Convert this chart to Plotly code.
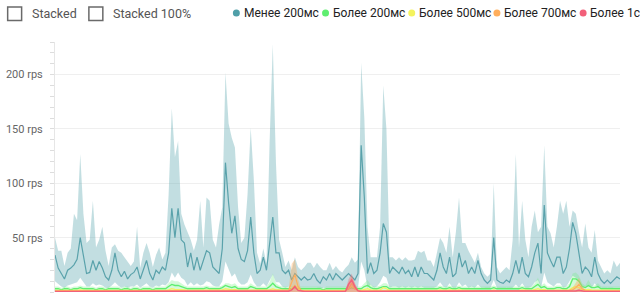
import plotly.graph_objects as go

# ---------------- data ----------------
t = list(range(180))

# "Менее 200мс" : median line, band upper, band lower
M = [34,22,17,12,20,22,25,30,50,33,
     17,18,29,20,28,22,14,11,20,36,
     20,14,19,12,16,18,23,12,20,29,
     17,11,20,17,23,20,36,77,50,77,
     48,45,23,36,20,32,20,30,38,36,
     23,20,17,40,119,82,54,70,40,30,
     28,38,69,36,17,20,32,20,45,69,
     36,36,20,17,20,11,17,14,11,14,
     11,12,17,11,8,14,11,17,11,17,
     14,11,14,17,14,11,17,135,87,17,
     27,17,20,36,63,55,17,23,20,17,
     23,17,20,14,23,14,23,17,17,14,
     11,20,36,23,17,32,14,17,36,23,
     29,17,23,17,29,17,11,8,11,50,
     11,9,8,11,9,17,29,17,32,17,
     14,23,36,45,17,80,36,29,23,32,
     32,17,23,40,64,54,36,17,23,20,
     14,32,17,11,8,11,8,11,14,12]
U = [50,38,38,24,36,40,72,66,127,72,
     45,48,84,41,48,60,38,24,41,44,
     38,36,32,28,24,28,60,22,36,45,
     36,23,34,41,30,36,90,169,124,139,
     72,62,54,48,38,48,84,41,87,84,
     48,41,62,78,202,155,142,133,78,45,
     50,90,151,103,36,26,40,26,139,228,
     119,48,36,23,29,20,32,23,20,23,
     27,27,22,27,23,20,20,27,20,24,
     20,18,22,25,32,27,30,211,160,60,
     32,32,32,60,190,150,32,32,29,32,
     29,32,29,29,30,38,36,38,29,29,
     23,36,50,45,36,60,32,55,87,45,
     45,38,32,27,36,23,17,14,17,100,
     23,17,20,23,20,48,127,41,84,48,
     32,60,75,55,60,135,60,54,41,60,
     84,72,84,60,75,72,55,41,63,41,
     36,57,29,23,17,20,17,29,23,27]
L = [10,7,5,4,6,7,8,9,13,9,
     5,5,8,6,7,6,4,4,6,9,
     6,4,5,4,5,5,7,4,6,8,
     5,4,6,5,7,6,9,18,13,18,
     13,11,6,9,6,8,6,7,10,9,
     6,5,5,10,28,20,14,17,10,7,
     7,9,16,9,5,5,8,5,11,16,
     9,9,5,4,5,4,4,4,4,4,
     4,4,4,4,3,4,4,4,4,4,
     4,4,4,4,4,4,4,28,20,4,
     7,4,5,9,15,13,4,5,5,4,
     5,4,5,4,5,4,5,4,4,4,
     4,5,9,5,4,8,4,4,9,5,
     7,4,5,4,7,4,4,3,4,11,
     4,3,3,4,3,4,7,4,8,4,
     4,5,9,11,4,18,9,7,5,8,
     8,4,5,10,15,13,9,4,5,5,
     4,8,4,4,3,4,3,4,4,4]

# "Более 200мс"
G = [3,3,2,3,3,2,3,3,4,3,
     3,3,3,2,3,3,2,3,3,3,
     3,2,3,3,2,3,3,2,3,3,
     3,2,3,3,3,3,5,7,6,6,
     5,4,3,3,3,3,3,3,4,3,
     3,3,3,4,6,5,4,5,3,3,
     3,3,5,4,3,3,3,3,5,8,
     5,4,3,3,3,3,4,3,3,3,
     3,3,3,3,3,2,3,3,3,3,
     3,3,3,3,4,3,3,3,5,6,
     4,3,3,4,5,5,3,3,3,3,
     3,3,3,3,3,3,3,3,3,3,
     3,3,4,3,3,4,3,3,4,3,
     3,3,3,3,3,3,3,3,3,4,
     3,3,3,3,3,3,3,3,4,3,
     3,3,5,7,4,5,3,3,3,4,
     4,3,3,5,12,12,10,5,4,6,
     4,4,5,3,3,3,3,3,3,3]
GU = [5,5,4,5,5,4,5,5,6,5,
      5,5,5,4,5,5,4,5,5,5,
      5,4,5,5,4,5,5,4,5,5,
      5,4,5,5,5,5,8,11,10,10,
      8,6,5,5,5,5,5,5,6,5,
      5,5,5,6,8,8,7,8,5,5,
      5,5,8,6,5,5,5,5,9,17,
      8,6,5,5,5,5,6,5,5,5,
      5,5,5,5,5,4,5,5,5,5,
      5,5,5,5,6,5,5,5,8,11,
      7,5,5,6,8,8,5,5,5,5,
      5,5,5,5,5,5,5,5,5,5,
      5,5,6,5,5,6,5,5,6,5,
      5,5,5,5,5,5,5,5,5,6,
      5,5,5,5,5,5,5,5,6,5,
      5,5,8,13,6,8,5,5,5,6,
      6,5,5,8,17,18,15,8,6,11,
      6,6,8,5,5,5,5,5,5,5]

# "Более 500мс"
Y = [1.5,1.5,1,1.5,1.5,1,1.5,1.5,2,1.5,
     1.5,1.5,1.5,1,1.5,1.5,1,1.5,1.5,1.5,
     1.5,1,1.5,1.5,1,1.5,1.5,1,1.5,1.5,
     1.5,1,1.5,1.5,1.5,1.5,2,3,2.5,2.5,
     2,2,1.5,1.5,1.5,1.5,1.5,1.5,2,1.5,
     1.5,1.5,1.5,2,3,2.5,2,2.5,1.5,1.5,
     1.5,1.5,2,2,1.5,1.5,1.5,1.5,2,3,
     2,2,1.5,1.5,1.5,3,6,3,1.5,1.5,
     1.5,1.5,1.5,1.5,1.5,1,1.5,1.5,1.5,1.5,
     1.5,1.5,1.5,3,5,3,1.5,1.5,2,3,
     2,1.5,1.5,2,4,3,1.5,1.5,1.5,1.5,
     1.5,1.5,1,1.5,1.5,1.5,1,1.5,1.5,1.5,
     1.5,1.5,2,1.5,1.5,2,1.5,1.5,2,1.5,
     1.5,1.5,1.5,1.5,1.5,1.5,1,1,1,2,
     1,1,1,1,1,1.5,1.5,1.5,2,1.5,
     1.5,1.5,2,3,2,2.5,1.5,1.5,1.5,2,
     2,1.5,1.5,2,4,5,4,2,2,2.5,
     2,2,2,1.5,1.5,1.5,1.5,1.5,1.5,1.5]

# "Более 700мс"
O = [1,1,1,1,1,1,1,1,1,1,
     1,1,1,1,1,1,1,1,1,1,
     1,1,1,1,1,1,1,1,1,1,
     1,1,1,1,1,1,1,1.5,1,1,
     1,1,1,1,1,1,1,1,1,1,
     1,1,1,1,1.5,1,1,1,1,1,
     1,1,1,1,1,1,1,1,1,1.5,
     1,1,1,1,1.5,9,16,5,1.5,1,
     1,1,1,1,1,1,1,1,1,1,
     1,1,1,3,8,3,1.5,1,1,1.5,
     1,1,1,1,1.5,1,1,1,1,1,
     1,1,1,1,1,1,1,1,1,1,
     1,1,1,1,1,1,1,1,1,1,
     1,1,1,1,1,1,1,1,1,1,
     1,1,1,1,1,1,1,1,1,1,
     1,1,1,1,1,1.5,1,1,1,1,
     1,1,1,1.5,2,4,7,3,1.5,1,
     1,1,1,1,1,1,1,1,1,1]
OU = [1.5,1.5,1.5,1.5,1.5,1.5,1.5,1.5,1.5,1.5,
      1.5,1.5,1.5,1.5,1.5,1.5,1.5,1.5,1.5,1.5,
      1.5,1.5,1.5,1.5,1.5,1.5,1.5,1.5,1.5,1.5,
      1.5,1.5,1.5,1.5,1.5,1.5,1.5,2,1.5,1.5,
      1.5,1.5,1.5,1.5,1.5,1.5,1.5,1.5,1.5,1.5,
      1.5,1.5,1.5,1.5,2,1.5,1.5,1.5,1.5,1.5,
      1.5,1.5,1.5,1.5,1.5,1.5,1.5,1.5,1.5,2,
      1.5,1.5,1.5,1.5,2,26,30,12,2,1.5,
      1.5,1.5,1.5,1.5,1.5,1.5,1.5,1.5,1.5,1.5,
      1.5,1.5,1.5,9,15,8,2,1.5,1.5,2,
      1.5,1.5,1.5,1.5,2,1.5,1.5,1.5,1.5,1.5,
      1.5,1.5,1.5,1.5,1.5,1.5,1.5,1.5,1.5,1.5,
      1.5,1.5,1.5,1.5,1.5,1.5,1.5,1.5,1.5,1.5,
      1.5,1.5,1.5,1.5,1.5,1.5,1.5,1.5,1.5,1.5,
      1.5,1.5,1.5,1.5,1.5,1.5,1.5,1.5,1.5,1.5,
      1.5,1.5,1.5,1.5,1.5,2,1.5,1.5,1.5,1.5,
      1.5,1.5,1.5,2,4,8,13,6,2,1.5,
      1.5,1.5,1.5,1.5,1.5,1.5,1.5,1.5,1.5,1.5]

# "Более 1с"
R = [0.5,0.5,0.5,0.5,0.5,0.5,0.5,0.5,0.5,0.5,
     0.5,0.5,0.5,0.5,0.5,0.5,0.5,0.5,0.5,0.5,
     0.5,0.5,0.5,0.5,0.5,0.5,0.5,0.5,0.5,0.5,
     0.5,0.5,0.5,0.5,0.5,0.5,0.5,0.8,0.5,0.5,
     0.5,0.5,0.5,0.5,0.5,0.5,0.5,0.5,0.5,0.5,
     0.5,0.5,0.5,0.5,0.8,0.5,0.5,0.5,0.5,0.5,
     0.5,0.5,0.5,0.5,0.5,0.5,0.5,0.5,0.5,0.8,
     0.5,0.5,0.5,0.5,0.8,2,5,1.5,0.8,0.5,
     0.5,0.5,0.5,0.5,0.5,0.5,0.5,0.5,0.5,0.5,
     0.5,0.5,0.5,7,11,5,1,0.5,0.5,0.5,
     0.5,0.5,0.5,0.5,0.5,0.5,0.5,0.5,0.5,0.5,
     0.5,0.5,0.5,0.5,0.5,0.5,0.5,0.5,0.5,0.5,
     0.5,0.5,0.5,0.5,0.5,0.5,0.5,0.5,0.5,0.5,
     0.5,0.5,0.5,0.5,0.5,0.5,0.5,0.5,0.5,0.5,
     0.5,0.5,0.5,0.5,0.5,0.5,0.5,0.5,0.5,0.5,
     0.5,0.5,0.5,0.5,0.5,0.5,0.5,0.5,0.5,0.5,
     0.5,0.5,0.5,0.5,0.5,1,1.5,0.8,0.5,0.5,
     0.5,0.5,0.5,0.5,0.5,0.5,0.5,0.5,0.5,0.5]
RU = [0.8,0.8,0.8,0.8,0.8,0.8,0.8,0.8,0.8,0.8,
      0.8,0.8,0.8,0.8,0.8,0.8,0.8,0.8,0.8,0.8,
      0.8,0.8,0.8,0.8,0.8,0.8,0.8,0.8,0.8,0.8,
      0.8,0.8,0.8,0.8,0.8,0.8,0.8,1.2,0.8,0.8,
      0.8,0.8,0.8,0.8,0.8,0.8,0.8,0.8,0.8,0.8,
      0.8,0.8,0.8,0.8,1.2,0.8,0.8,0.8,0.8,0.8,
      0.8,0.8,0.8,0.8,0.8,0.8,0.8,0.8,0.8,1.2,
      0.8,0.8,0.8,0.8,1.2,3,7,2,1.2,0.8,
      0.8,0.8,0.8,0.8,0.8,0.8,0.8,0.8,0.8,0.8,
      0.8,0.8,1,12,17,8,1.5,0.8,0.8,0.8,
      0.8,0.8,0.8,0.8,0.8,0.8,0.8,0.8,0.8,0.8,
      0.8,0.8,0.8,0.8,0.8,0.8,0.8,0.8,0.8,0.8,
      0.8,0.8,0.8,0.8,0.8,0.8,0.8,0.8,0.8,0.8,
      0.8,0.8,0.8,0.8,0.8,0.8,0.8,0.8,0.8,0.8,
      0.8,0.8,0.8,0.8,0.8,0.8,0.8,0.8,0.8,0.8,
      0.8,0.8,0.8,0.8,0.8,0.8,0.8,0.8,0.8,0.8,
      0.8,0.8,0.8,0.8,0.8,1.5,2.5,1.2,0.8,0.8,
      0.8,0.8,0.8,0.8,0.8,0.8,0.8,0.8,0.8,0.8]

series_names = ["Менее 200мс", "Более 200мс", "Более 500мс", "Более 700мс", "Более 1с"]
series_colors = ["#4f9fa8", "#5fee70", "#f4f35e", "#ffae5c", "#f2607a"]
toggle_labels = ["Stacked", "Stacked 100%"]
y_tick_values = [50, 100, 150, 200]
y_tick_labels = ["50 rps", "100 rps", "150 rps", "200 rps"]

# ---------------- layout geometry (pixels) ----------------
W, H = 640, 298
ML, MR, MT, MB = 53, 20, 42, 6
PW, PH = W - ML - MR, H - MT - MB


def px(x):
    return (x - ML) / PW


def py(y):
    return (H - MB - y) / PH


fig = go.Figure()

# blue band + line
fig.add_trace(go.Scatter(x=t, y=L, mode="lines", line=dict(width=0),
                         showlegend=False, hoverinfo="skip"))
fig.add_trace(go.Scatter(x=t, y=U, mode="lines", line=dict(width=0),
                         fill="tonexty", fillcolor="rgba(95,168,176,0.38)",
                         showlegend=False, hoverinfo="skip"))
fig.add_trace(go.Scatter(x=t, y=M, mode="lines", name=series_names[0],
                         line=dict(color="#5aa2ab", width=1.2), showlegend=False))

# green
fig.add_trace(go.Scatter(x=t, y=GU, mode="lines", line=dict(width=0),
                         fill="tozeroy", fillcolor="rgba(110,240,125,0.30)",
                         showlegend=False, hoverinfo="skip"))
fig.add_trace(go.Scatter(x=t, y=G, mode="lines", name=series_names[1],
                         line=dict(color=series_colors[1], width=1.3), showlegend=False))
# yellow
fig.add_trace(go.Scatter(x=t, y=Y, mode="lines", name=series_names[2],
                         line=dict(color=series_colors[2], width=1.2), showlegend=False))
# orange
fig.add_trace(go.Scatter(x=t, y=OU, mode="lines", line=dict(width=0),
                         fill="tozeroy", fillcolor="rgba(255,170,90,0.40)",
                         showlegend=False, hoverinfo="skip"))
fig.add_trace(go.Scatter(x=t, y=O, mode="lines", name=series_names[3],
                         line=dict(color=series_colors[3], width=1.2), showlegend=False))
# red
fig.add_trace(go.Scatter(x=t, y=RU, mode="lines", line=dict(width=0),
                         fill="tozeroy", fillcolor="rgba(242,96,122,0.35)",
                         showlegend=False, hoverinfo="skip"))
fig.add_trace(go.Scatter(x=t, y=R, mode="lines", name=series_names[4],
                         line=dict(color=series_colors[4], width=1.5), showlegend=False))

shapes = []
annotations = []

# checkboxes
for (x0, x1), lab, tx in zip([(5.5, 19.5), (87, 101)], toggle_labels, [28, 109]):
    shapes.append(dict(type="rect", xref="paper", yref="paper",
                       x0=px(x0), x1=px(x1), y0=py(20.5), y1=py(7),
                       line=dict(color="#6a6a6a", width=1.5), fillcolor="white"))
    annotations.append(dict(xref="paper", yref="paper", x=px(tx), y=py(14),
                            xanchor="left", yanchor="middle", showarrow=False,
                            text=lab, font=dict(family="Roboto", size=12.5, color="#555555")))

# legend (dots + labels)
dot_cx = [235, 324.5, 411, 496.5, 583]
text_x = [241, 330, 416.5, 502, 588]
r = 3.5
for cx, tx, name, col in zip(dot_cx, text_x, series_names, series_colors):
    shapes.append(dict(type="circle", xref="paper", yref="paper",
                       x0=px(cx - r), x1=px(cx + r), y0=py(13 + r), y1=py(13 - r),
                       line=dict(width=0), fillcolor=col))
    annotations.append(dict(xref="paper", yref="paper", x=px(tx), y=py(13),
                            xanchor="left", yanchor="middle", showarrow=False,
                            text=name, font=dict(family="Roboto", size=12, color="#222222")))

fig.update_layout(
    width=W, height=H,
    margin=dict(l=ML, r=MR, t=MT, b=MB, pad=0),
    paper_bgcolor="white", plot_bgcolor="white",
    showlegend=False,
    shapes=shapes, annotations=annotations,
    font=dict(family="Roboto", size=11, color="#666666"),
    xaxis=dict(range=[0, 179], visible=False, fixedrange=True),
    yaxis=dict(range=[0, 230], tickmode="array", tickvals=y_tick_values,
               ticktext=y_tick_labels,
               showgrid=True, gridcolor="#efefef", gridwidth=1,
               zeroline=False, showline=True, linecolor="#e6e6e6", linewidth=1,
               ticks="outside", ticklen=4, tickcolor="#dddddd",
               ticklabelstandoff=5,
               tickfont=dict(family="Roboto", size=11, color="#666666"),
               minor=dict(dtick=10, tick0=0, ticks="outside", ticklen=4,
                          tickcolor="#dddddd", showgrid=False),
               fixedrange=True),
)

fig.write_html("out.html")
